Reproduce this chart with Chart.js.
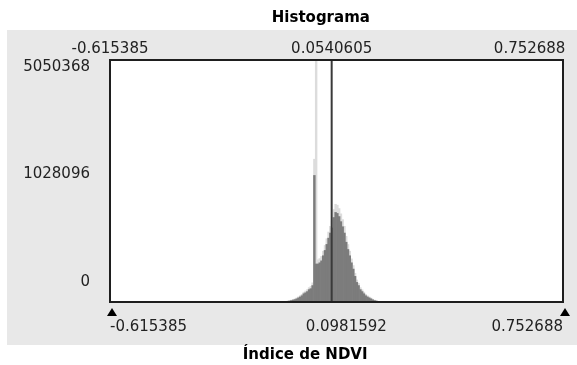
<!DOCTYPE html>
<html>
<head>
<meta charset="utf-8">
<script src="https://cdn.jsdelivr.net/npm/chart.js@4/dist/chart.umd.min.js"></script>
<style>
  html, body { margin: 0; padding: 0; background: #ffffff; }
  #wrap { width: 577px; height: 365px; }
</style>
</head>
<body>
<div id="wrap"><canvas id="histChart" width="577" height="365"></canvas></div>
<script>
// NDVI range and histogram layout (256 bins over the range)
const ndviMin = -0.615385;
const ndviMax = 0.752688;
const binCount = 256;
const firstBin = 100;
const meanValue = 0.0540605;
const medianLabel = 0.0981592;
const maxCount = 5050368;

// pixel counts per bin, starting at bin 100
const darkCounts = [
    15000, 20000, 30000, 40000, 50000, 66000, 86000, 106000, 131000, 172000,
    192000, 217000, 258000, 278000, 343000, 2641000, 793000, 793000, 818000, 859000,
    965000, 1076000, 1202000, 1333000, 1439000, 1545000, 1763000, 1869000, 1848000, 1783000,
    1677000, 1571000, 1439000, 1247000, 1096000, 965000, 818000, 687000, 535000, 409000,
    343000, 258000, 217000, 172000, 131000, 106000, 86000, 66000, 45000, 30000,
    20000, 10000
];
const lightCounts = [
    20000, 28000, 40000, 52000, 65000, 85000, 108000, 132000, 160000, 205000,
    230000, 258000, 300000, 325000, 400000, 2980000, 5050368, 880000, 905000, 950000,
    1060000, 1180000, 1320000, 1460000, 1580000, 1700000, 1930000, 2040000, 2020000, 1950000,
    1840000, 1720000, 1580000, 1370000, 1200000, 1060000, 900000, 760000, 600000, 460000,
    390000, 300000, 255000, 205000, 160000, 130000, 105000, 82000, 58000, 40000,
    28000, 15000
];

const yTickLabels = ['0', '1028096', '5050368'];
const topTickValues = [ndviMin, meanValue, ndviMax];
const bottomTickValues = [ndviMin, medianLabel, ndviMax];

const binWidth = (ndviMax - ndviMin) / binCount;
const toPoints = counts => counts.map((c, k) => ({
    x: ndviMin + (firstBin + k + 0.5) * binWidth,
    y: c
}));

const labelFont = { family: 'DejaVu Sans', size: 15 };
const titleFont = { family: 'DejaVu Sans', size: 15, weight: 'bold' };

// grey panel, white plot area, frame and the two stretch arrows
const frame = {
    id: 'frame',
    beforeDraw(chart) {
        const { ctx, chartArea: a } = chart;
        ctx.save();
        ctx.fillStyle = '#e8e8e8';
        ctx.fillRect(7, 30, 570, 315);
        ctx.fillStyle = '#ffffff';
        ctx.fillRect(a.left, a.top, a.right - a.left, a.bottom - a.top);
        ctx.restore();
    },
    afterDraw(chart) {
        const { ctx, chartArea: a } = chart;
        const xs = chart.scales.x;
        ctx.save();
        ctx.strokeStyle = '#1e1e1e';
        ctx.lineWidth = 2;
        ctx.strokeRect(a.left, a.top, a.right - a.left, a.bottom - a.top);
        ctx.fillStyle = '#000000';
        [xs.getPixelForValue(ndviMin) + 2, xs.getPixelForValue(ndviMax) + 2].forEach(px => {
            ctx.beginPath();
            ctx.moveTo(px, a.bottom + 6);
            ctx.lineTo(px + 5, a.bottom + 14);
            ctx.lineTo(px - 5, a.bottom + 14);
            ctx.closePath();
            ctx.fill();
        });
        ctx.restore();
    }
};

const ctx = document.getElementById('histChart').getContext('2d');

new Chart(ctx, {
    type: 'bar',
    data: {
        datasets: [{
            label: 'mean',
            type: 'line',
            data: [{ x: meanValue, y: 0 }, { x: meanValue, y: maxCount }],
            borderColor: '#3a3a3a',
            borderWidth: 2,
            pointRadius: 0,
            yAxisID: 'y',
            order: 0
        }, {
            label: 'dark',
            data: toPoints(darkCounts),
            backgroundColor: '#7c7c7c',
            barPercentage: 1,
            categoryPercentage: 1,
            grouped: false,
            yAxisID: 'y',
            order: 1
        }, {
            label: 'light',
            data: toPoints(lightCounts),
            backgroundColor: '#dcdcdc',
            barPercentage: 1,
            categoryPercentage: 1,
            grouped: false,
            yAxisID: 'y',
            order: 2
        }]
    },
    options: {
        responsive: false,
        animation: false,
        layout: { padding: { left: 0, right: 14, top: 0, bottom: 0 } },
        plugins: {
            legend: { display: false },
            tooltip: { enabled: false }
        },
        scales: {
            x: {
                type: 'linear',
                position: 'bottom',
                offset: false,
                min: ndviMin,
                max: ndviMax,
                grid: { display: false, drawTicks: false, offset: false },
                border: { display: false },
                afterBuildTicks: s => { s.ticks = bottomTickValues.map(v => ({ value: v })); },
                afterFit: s => { s.height = 63; s.paddingLeft = 0; s.paddingRight = 0; },
                ticks: {
                    autoSkip: false,
                    maxRotation: 0,
                    align: 'inner',
                    padding: 16,
                    color: '#222222',
                    font: labelFont,
                    callback: v => String(v)
                },
                title: {
                    display: true,
                    text: 'Índice de NDVI' + ' '.repeat(12),
                    color: '#000000',
                    font: titleFont,
                    padding: { top: 0, bottom: 1 }
                }
            },
            x2: {
                type: 'linear',
                position: 'top',
                offset: false,
                min: ndviMin,
                max: ndviMax,
                grid: { display: false, drawTicks: false, offset: false },
                border: { display: false },
                afterBuildTicks: s => { s.ticks = topTickValues.map(v => ({ value: v })); },
                afterFit: s => { s.height = 60; s.paddingLeft = 0; s.paddingRight = 0; },
                ticks: {
                    autoSkip: false,
                    maxRotation: 0,
                    padding: 2,
                    color: '#222222',
                    font: labelFont,
                    callback: (v, i) => i === 2 ? String(v) + ' '.repeat(14) : String(v)
                },
                title: {
                    display: true,
                    text: 'Histograma' + ' '.repeat(6),
                    color: '#000000',
                    font: titleFont,
                    padding: { top: 9, bottom: 0 }
                }
            },
            y: {
                display: false,
                min: 0,
                max: maxCount
            },
            yl: {
                type: 'linear',
                position: 'left',
                min: -0.093,
                max: 1.0326,
                grid: { display: false, drawTicks: false },
                border: { display: false },
                afterBuildTicks: s => { s.ticks = [0, 0.5, 1].map(v => ({ value: v })); },
                afterFit: s => { s.width = 110; },
                ticks: {
                    padding: 20,
                    color: '#222222',
                    font: labelFont,
                    callback: (v, i) => yTickLabels[i]
                }
            }
        }
    },
    plugins: [frame]
});
</script>
</body>
</html>
